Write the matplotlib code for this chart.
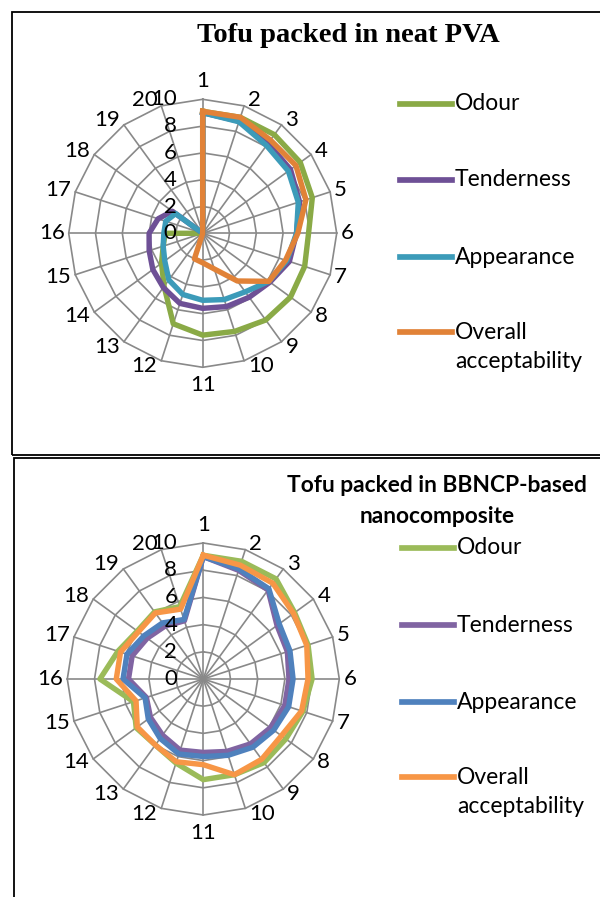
import numpy as np
import matplotlib
matplotlib.use('Agg')
import matplotlib.pyplot as plt
from matplotlib.lines import Line2D
from matplotlib.patches import Rectangle

# spoke labels and radial rings
spokes = [str(i) for i in range(1, 21)]
rings = [0, 2, 4, 6, 8, 10]
names = ['Odour', 'Tenderness', 'Appearance', 'Overall\nacceptability']

# Tofu packed in neat PVA
pva_odour = [9.1, 9.1, 9.1, 9.0, 8.6, 7.9, 8.0, 8.1, 8.0, 7.7, 7.6, 7.1, 4.9, 3.8, 3.1, 2.8, 0, 0, 0, 0]
pva_tender = [9.0, 8.8, 8.3, 8.1, 7.6, 7.0, 6.8, 6.2, 5.9, 5.75, 5.6, 5.5, 5.0, 4.6, 4.2, 4.0, 3.5, 2.8, 0, 0]
pva_appear = [9.0, 8.75, 8.1, 7.9, 7.5, 7.0, 6.6, 6.1, 5.4, 5.2, 5.0, 4.8, 4.3, 3.5, 3.1, 2.9, 2.9, 2.5, 0, 0]
pva_overall = [9.1, 9.1, 8.6, 8.6, 8.1, 7.1, 6.5, 6.1, 4.4, 2.8, 2.2, 2.0, 0, 0, 0, 0, 0, 0, 0, 0]

# Tofu packed in BBNCP-based nanocomposite
bb_odour = [9.1, 9.1, 9.1, 8.3, 8.1, 8.0, 7.7, 7.5, 7.6, 7.4, 7.4, 6.5, 6.0, 6.1, 5.4, 7.6, 6.6, 6.0, 6.1, 5.6]
bb_tender = [9.0, 8.4, 8.1, 6.7, 6.5, 6.3, 6.3, 6.1, 5.9, 5.6, 5.4, 5.5, 5.1, 4.8, 4.4, 5.5, 5.5, 5.1, 4.8, 4.5]
bb_appear = [9.0, 8.5, 8.2, 6.9, 6.7, 6.6, 6.6, 6.4, 6.2, 5.9, 5.7, 5.8, 5.4, 5.0, 4.5, 5.9, 5.9, 5.4, 5.1, 4.6]
bb_overall = [9.1, 8.8, 8.7, 8.2, 8.0, 7.7, 7.6, 7.1, 7.3, 7.4, 6.3, 6.4, 6.0, 6.0, 5.2, 6.4, 6.4, 5.9, 6.0, 5.4]

pva_colors = ['#8AAA46', '#6E5096', '#3C9BB9', '#E18237']
bb_colors = ['#9BBB59', '#8064A2', '#4F81BD', '#F79646']

W, H = 600, 897
SANS = ['Lato', 'DejaVu Sans']
fig = plt.figure(figsize=(W / 100, H / 100), dpi=100)

# frames around the two charts
fig.add_artist(Rectangle((12 / W, 1 - 455 / H), 700 / W, 443 / H, transform=fig.transFigure,
                         fill=False, edgecolor='black', lw=1.3))
fig.add_artist(Rectangle((14 / W, -0.1), 700 / W, 1 - 458 / H + 0.1, transform=fig.transFigure,
                         fill=False, edgecolor='black', lw=1.3))


def radar(cx, cy, R, series, colors):
    ax = fig.add_axes([(cx - R) / W, 1 - (cy + R) / H, 2 * R / W, 2 * R / H], projection='polar')
    ax.set_theta_zero_location('N')
    ax.set_theta_direction(-1)
    ax.set_ylim(0, 10)
    ax.axis('off')
    theta = np.arange(20) * 2 * np.pi / 20
    closed = np.append(theta, theta[0])
    for v in rings[1:]:
        ax.plot(closed, [v] * 21, color='#898989', lw=1.2, clip_on=False, zorder=1)
    for t in theta:
        ax.plot([t, t], [0, 10], color='#898989', lw=1.2, clip_on=False, zorder=1)
    for vals, c in zip(series, colors):
        ax.plot(closed, vals + vals[:1], color=c, lw=3.9, clip_on=False, zorder=3,
                solid_joinstyle='round')
    for t, lab in zip(theta, spokes):
        s, co = np.sin(t), np.cos(t)
        if abs(s) < 0.01:
            ha = 'center'
            va = 'bottom' if co > 0 else 'top'
            off = (0, 8 if co > 0 else -8)
        else:
            ha = 'left' if s > 0 else 'right'
            va = 'center'
            off = (4 * np.sign(s), 6 * co)
        ax.annotate(lab, xy=(t, 10), xytext=off, textcoords='offset pixels',
                    ha=ha, va=va, fontsize=16, family=SANS, annotation_clip=False)
    for v in rings:
        ax.annotate(str(v), xy=(0, v), xytext=(-26, 0), textcoords='offset pixels',
                    ha='right', va='center', fontsize=16, family=SANS, annotation_clip=False)
    return ax


def legend(x0, ys, colors):
    for y, c, n in zip(ys, colors, names):
        fig.add_artist(Line2D([x0 / W, (x0 + 52) / W], [1 - y / H] * 2, color=c, lw=4.1))
        if '\n' in n:
            yt = 1 - (y + 15) / H
        else:
            yt = 1 - y / H
        fig.text((x0 + 55) / W, yt, n, ha='left', va='center', fontsize=16.5,
                 family=SANS, linespacing=1.5)


radar(202.7, 233.3, 134, [pva_odour, pva_tender, pva_appear, pva_overall], pva_colors)
fig.text(348 / W, 1 - 35 / H, 'Tofu packed in neat PVA', ha='center', va='center',
         fontsize=20.5, fontweight='bold', family=['Liberation Serif', 'DejaVu Serif'])
legend(400, [104, 180, 257, 332], pva_colors)

radar(203.3, 679, 136, [bb_odour, bb_tender, bb_appear, bb_overall], bb_colors)
fig.text(437 / W, 1 - 501 / H, 'Tofu packed in BBNCP-based\nnanocomposite', ha='center',
         va='center', fontsize=16.4, fontweight='bold', family=SANS, linespacing=1.6)
legend(402, [548, 625, 702, 777], bb_colors)

fig.savefig('out.png', dpi=100)
